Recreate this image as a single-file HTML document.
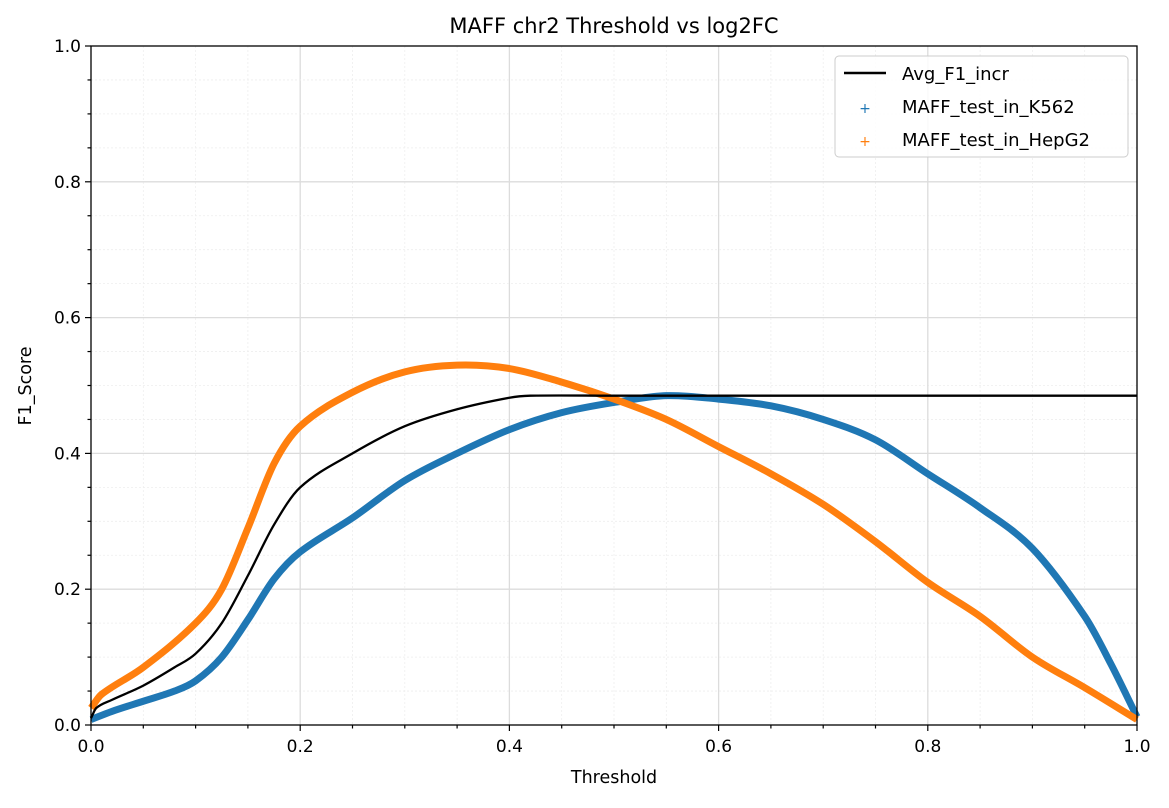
<!DOCTYPE html>
<html><head><meta charset="utf-8"><style>
body{margin:0;background:#fff;font-family:"Liberation Sans","DejaVu Sans",sans-serif;}
svg text{font-family:"DejaVu Sans","Liberation Sans",sans-serif;}
</style></head><body>
<svg id="chart" width="1169" height="803" xmlns="http://www.w3.org/2000/svg">
<rect width="1169" height="803" fill="#fff"/>
<g id="grid"></g>
<g id="series"></g>
<rect x="91" y="46" width="1046" height="679" fill="none" stroke="#000" stroke-width="1.3"/>
<g id="ticks"></g>
<text x="614" y="33" font-size="21" text-anchor="middle">MAFF chr2 Threshold vs log2FC</text>
<text x="614" y="783" font-size="17.5" text-anchor="middle">Threshold</text>
<text x="31" y="386" font-size="17.5" text-anchor="middle" transform="rotate(-90 31 386)">F1_Score</text>
<g>
<rect x="835" y="56" width="293" height="101" rx="4" fill="#fff" fill-opacity="0.85" stroke="#ccc"/>
<line x1="844" y1="73" x2="886" y2="73" stroke="#000" stroke-width="2.5"/>
<text x="902" y="80" font-size="18">Avg_F1_incr</text>
<text x="865" y="113" font-size="14" fill="#1f77b4" text-anchor="middle">+</text>
<text x="902" y="113" font-size="18">MAFF_test_in_K562</text>
<text x="865" y="146" font-size="14" fill="#ff7f0e" text-anchor="middle">+</text>
<text x="902" y="146" font-size="18">MAFF_test_in_HepG2</text>
</g>
</svg>
<script>
const hepX=[0,0.01,0.05,0.1,0.125,0.15,0.175,0.2,0.25,0.3,0.35,0.4,0.45,0.5,0.55,0.6,0.65,0.7,0.75,0.8,0.85,0.9,0.95,1.0];
const hepY=[0.025,0.045,0.085,0.15,0.2,0.29,0.385,0.44,0.49,0.52,0.53,0.525,0.505,0.48,0.45,0.41,0.37,0.325,0.27,0.21,0.16,0.1,0.055,0.008];
const k562X=[0,0.02,0.05,0.08,0.1,0.125,0.15,0.175,0.2,0.25,0.3,0.35,0.4,0.45,0.5,0.55,0.6,0.65,0.7,0.75,0.8,0.85,0.9,0.95,0.975,1.0];
const k562Y=[0.008,0.02,0.035,0.05,0.065,0.1,0.155,0.215,0.255,0.305,0.36,0.4,0.435,0.46,0.475,0.485,0.48,0.47,0.45,0.42,0.37,0.32,0.26,0.16,0.09,0.012];
const avgX=[0,0.005,0.02,0.05,0.08,0.1,0.125,0.15,0.175,0.2,0.25,0.3,0.35,0.4,0.42,0.5,1.0];
const avgY=[0.01,0.025,0.037,0.058,0.085,0.105,0.15,0.22,0.295,0.35,0.4,0.44,0.465,0.482,0.485,0.485,0.485];
const xTicks=[0,0.2,0.4,0.6,0.8,1.0];
const yTicks=[0,0.2,0.4,0.6,0.8,1.0];
const NS="http://www.w3.org/2000/svg";
const X=v=>91+v*1046, Y=v=>725-v*679;
function mk(tag,attrs,parent){const e=document.createElementNS(NS,tag);for(const k in attrs)e.setAttribute(k,attrs[k]);parent.appendChild(e);return e;}
const grid=document.getElementById('grid'),ticks=document.getElementById('ticks'),ser=document.getElementById('series');
for(let i=1;i<20;i++){const v=i*0.05;const major=i%4===0;
 const a=mk('line',{x1:X(v),x2:X(v),y1:46,y2:725,stroke:major?'#dcdcdc':'#eee','stroke-width':major?1.3:0.8,'stroke-dasharray':major?'':'2,2'},grid);
 
 
 const b=mk('line',{y1:Y(v),y2:Y(v),x1:91,x2:1137,stroke:major?'#dcdcdc':'#eee','stroke-width':major?1.3:0.8,'stroke-dasharray':major?'':'2,2'},grid);
 
 
}
for(let i=0;i<=20;i++){const v=i*0.05;const len=i%4===0?6:3.5;
 mk('line',{x1:X(v),x2:X(v),y1:725,y2:725+len,stroke:'#000','stroke-width':1.2},ticks);
 mk('line',{x1:91,x2:91-len,y1:Y(v),y2:Y(v),stroke:'#000','stroke-width':1.2},ticks);
}
xTicks.forEach(v=>{const t=mk('text',{x:X(v),y:752,'font-size':17,'text-anchor':'middle'},ticks);t.textContent=v.toFixed(1);
 
 });
yTicks.forEach(v=>{const t=mk('text',{x:81,y:Y(v)+6,'font-size':17,'text-anchor':'end'},ticks);t.textContent=v.toFixed(1);
 
 });
function line(xs,ys,color,w,name){
 const P=xs.map((x,i)=>[X(x),Y(ys[i])]);
 const n=P.length;
 const m=P.map((p,i)=>{const a=P[Math.max(0,i-1)],b=P[Math.min(n-1,i+1)];return (b[1]-a[1])/(b[0]-a[0]);});
 let d='M'+P[0][0]+','+P[0][1];
 for(let i=0;i<n-1;i++){
  const p1=P[i],p2=P[i+1],dx=(p2[0]-p1[0])/3;
  d+=` C${p1[0]+dx},${p1[1]+m[i]*dx} ${p2[0]-dx},${p2[1]-m[i+1]*dx} ${p2[0]},${p2[1]}`;
 }
 const p=mk('path',{d:d,fill:'none',stroke:color,'stroke-width':w,'stroke-linejoin':'round'},ser);
 
 
}
line(k562X,k562Y,'#1f77b4',7,'k562-series');
line(hepX,hepY,'#ff7f0e',7,'hepg2-series');
line(avgX,avgY,'#000',2.3,'avg-f1-line');
</script>
</body></html>
